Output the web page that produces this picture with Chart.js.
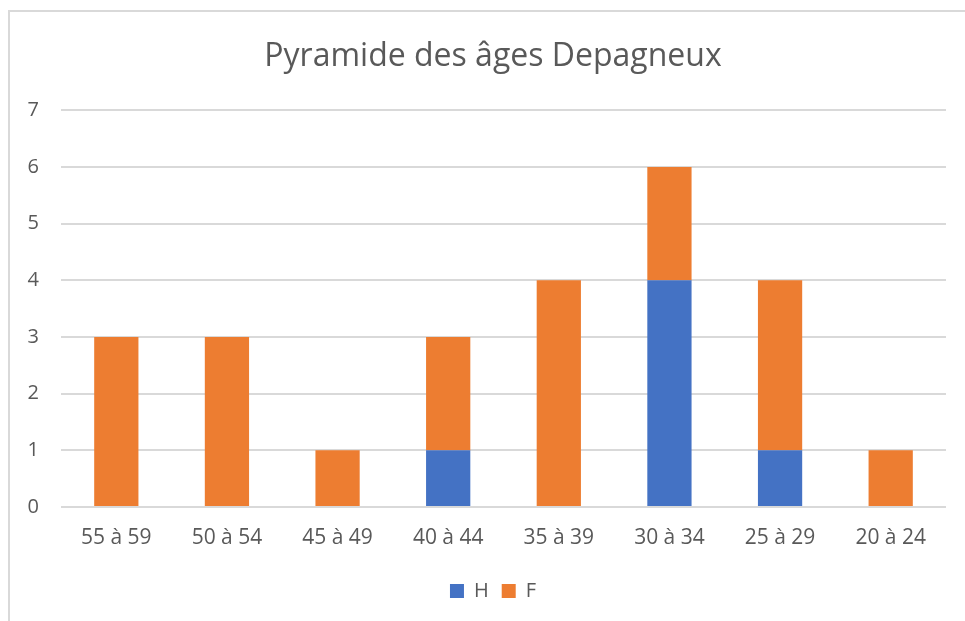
<!DOCTYPE html>
<html>
<head>
<meta charset="utf-8">
<script src="https://cdn.jsdelivr.net/npm/chart.js@4"></script>
<style>
  html, body { margin: 0; padding: 0; background: #fff; }
  #wrap { position: absolute; left: 0; top: 0; width: 965px; height: 621px; }
  #frame { position: absolute; left: 8px; top: 10px; width: 970px; height: 620px; border: 2px solid #D9D9D9; box-sizing: border-box; }
</style>
</head>
<body>
<div id="frame"></div>
<div id="wrap"><canvas id="c" width="965" height="621"></canvas></div>
<script>
const categories = ["55 à 59", "50 à 54", "45 à 49", "40 à 44", "35 à 39", "30 à 34", "25 à 29", "20 à 24"];
const hommes = [0, 0, 0, 1, 0, 4, 1, 0];
const femmes = [3, 3, 1, 2, 4, 2, 3, 1];
const titleText = "Pyramide des âges Depagneux";

const FONT = "'Open Sans', sans-serif";
const TXT = "#595959";

new Chart(document.getElementById('c'), {
  type: 'bar',
  data: {
    labels: categories,
    datasets: [
      { label: 'H', data: hommes, backgroundColor: '#4472C4', borderWidth: 0 },
      { label: 'F', data: femmes, backgroundColor: '#ED7D31', borderWidth: 0 }
    ]
  },
  options: {
    responsive: false,
    animation: false,
    devicePixelRatio: 1,
    layout: { padding: { left: 21, right: 0, top: 0, bottom: 10 } },
    datasets: { bar: { categoryPercentage: 1.0, barPercentage: 0.4 } },
    plugins: {
      title: {
        display: true,
        text: titleText,
        color: TXT,
        font: { family: FONT, size: 32, weight: 'normal' },
        padding: { top: 38, bottom: 34 }
      },
      legend: {
        position: 'bottom',
        labels: {
          color: TXT,
          font: { family: FONT, size: 20 },
          boxWidth: 14,
          boxHeight: 14,
          padding: 13
        }
      },
      tooltip: { enabled: false }
    },
    scales: {
      x: {
        stacked: true,
        grid: { display: false, drawTicks: false },
        border: { display: false },
        ticks: { color: TXT, font: { family: FONT, size: 21 }, padding: 18, maxRotation: 0 },
        afterFit: (s) => { s.height = 61; }
      },
      y: {
        stacked: true,
        min: 0, max: 7,
        grid: { color: '#D9D9D9', lineWidth: 2, drawTicks: false },
        border: { display: false },
        ticks: { stepSize: 1, color: TXT, font: { family: FONT, size: 20 }, padding: 22 },
        afterFit: (s) => { s.width = 40; }
      },
      y2: {
        position: 'right',
        display: true,
        grid: { display: false, drawTicks: false },
        border: { display: false },
        ticks: { display: false },
        afterFit: (s) => { s.width = 19; }
      }
    }
  }
});
</script>
</body>
</html>
